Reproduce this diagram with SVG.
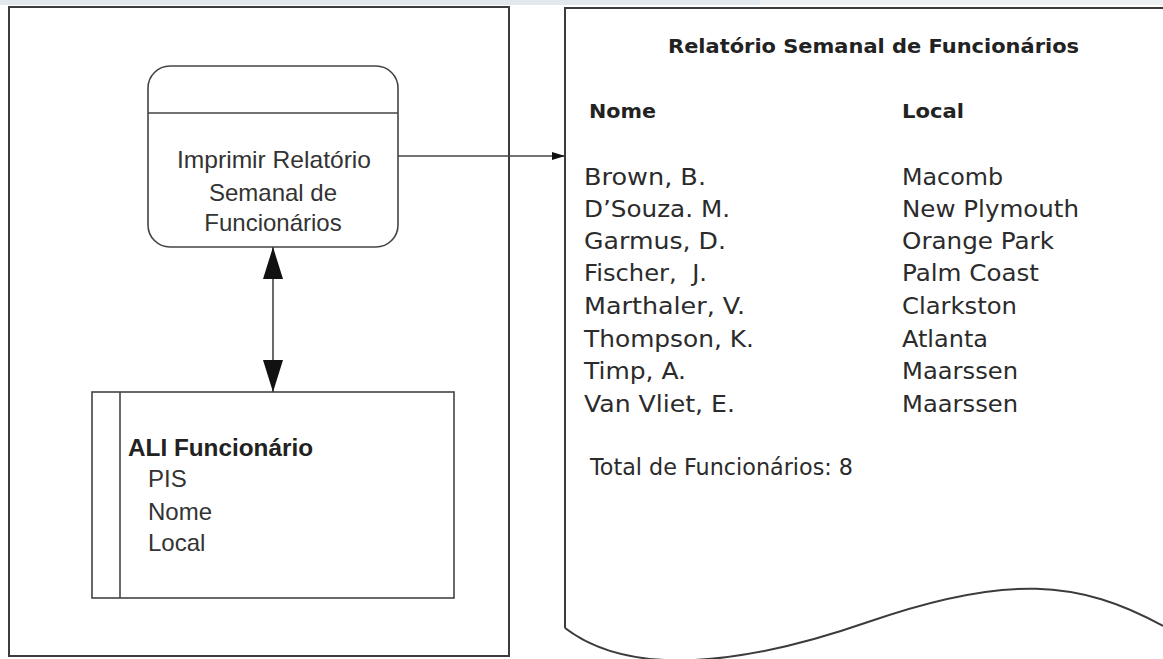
<svg xmlns="http://www.w3.org/2000/svg" width="1163" height="659" viewBox="0 0 1163 659">
<style>
.ln{fill:none;stroke:#3c3c3c;stroke-width:2}
.lt{fill:none;stroke:#444;stroke-width:1.6}
.t{font-family:"Liberation Sans",Arial,sans-serif;fill:#333;font-size:24px}
.tb{font-family:"Liberation Sans",Arial,sans-serif;fill:#222;font-size:23px;font-weight:bold}
.r{font-family:"DejaVu Sans",Verdana,sans-serif;fill:#2b2b2b;font-size:23px}
.rb{font-family:"DejaVu Sans",Verdana,sans-serif;fill:#222;font-size:20px;font-weight:bold}
</style>
<defs>
<marker id="big" viewBox="0 0 32 20" refX="32" refY="10" markerWidth="32" markerHeight="20" markerUnits="userSpaceOnUse" orient="auto-start-reverse">
<path d="M0,0 L32,10 L0,20 z" fill="#111"/>
</marker>
<marker id="small" viewBox="0 0 13 8" refX="13" refY="4" markerWidth="13" markerHeight="8" markerUnits="userSpaceOnUse" orient="auto">
<path d="M0,0 L13,4 L0,8 z" fill="#111"/>
</marker>
</defs>
<rect x="0" y="0" width="1163" height="659" fill="#fff"/>
<rect x="0" y="0" width="760" height="5" fill="#e2e9ee"/>
<rect x="760" y="0" width="403" height="5" fill="#eef1f3"/>

<g id="container">
<rect class="ln" x="9" y="7" width="500" height="649" stroke-width="2.4"/>
</g>

<g id="process">
<rect class="lt" x="148" y="66" width="250" height="181" rx="22" ry="22"/>
<line class="lt" x1="148" y1="113" x2="398" y2="113"/>
<text class="t" text-anchor="middle" x="274" y="168" textLength="194" lengthAdjust="spacingAndGlyphs">Imprimir Relatório</text>
<text class="t" text-anchor="middle" x="273" y="201">Semanal de</text>
<text class="t" text-anchor="middle" x="273" y="231">Funcionários</text>
</g>

<g id="ali">
<rect class="lt" x="92" y="392" width="362" height="206"/>
<line class="lt" x1="120" y1="392" x2="120" y2="598"/>
<text class="tb" x="128" y="456" textLength="185" lengthAdjust="spacingAndGlyphs">ALI Funcionário</text>
<text class="t" x="148" y="487">PIS</text>
<text class="t" x="148" y="520">Nome</text>
<text class="t" x="148" y="551">Local</text>
</g>

<g id="report">
<path class="ln" d="M565,628 L565,8 L1163,8"/>
<path class="ln" d="M565,628 C625,674 730,670 868,622 S1080,580 1163,626"/>
<text class="rb" x="668" y="53" textLength="411" lengthAdjust="spacingAndGlyphs">Relatório Semanal de Funcionários</text>
<text class="rb" x="589" y="118" textLength="67" lengthAdjust="spacingAndGlyphs">Nome</text>
<text class="rb" x="902" y="118" textLength="62" lengthAdjust="spacingAndGlyphs">Local</text>
<text class="r" x="584" y="185" textLength="122" lengthAdjust="spacingAndGlyphs">Brown, B.</text>
<text class="r" x="584" y="217" textLength="146" lengthAdjust="spacingAndGlyphs">D’Souza. M.</text>
<text class="r" x="584" y="249" textLength="142" lengthAdjust="spacingAndGlyphs">Garmus, D.</text>
<text class="r" x="584" y="281" textLength="123" lengthAdjust="spacingAndGlyphs" xml:space="preserve">Fischer,  J.</text>
<text class="r" x="584" y="314" textLength="161" lengthAdjust="spacingAndGlyphs">Marthaler, V.</text>
<text class="r" x="584" y="347" textLength="170" lengthAdjust="spacingAndGlyphs">Thompson, K.</text>
<text class="r" x="584" y="379" textLength="102" lengthAdjust="spacingAndGlyphs">Timp, A.</text>
<text class="r" x="584" y="412" textLength="151" lengthAdjust="spacingAndGlyphs">Van Vliet, E.</text>
<text class="r" x="902" y="185" textLength="101" lengthAdjust="spacingAndGlyphs">Macomb</text>
<text class="r" x="902" y="217" textLength="177" lengthAdjust="spacingAndGlyphs">New Plymouth</text>
<text class="r" x="902" y="249" textLength="152" lengthAdjust="spacingAndGlyphs">Orange Park</text>
<text class="r" x="902" y="281" textLength="137" lengthAdjust="spacingAndGlyphs">Palm Coast</text>
<text class="r" x="902" y="314" textLength="115" lengthAdjust="spacingAndGlyphs">Clarkston</text>
<text class="r" x="902" y="347" textLength="86" lengthAdjust="spacingAndGlyphs">Atlanta</text>
<text class="r" x="902" y="379" textLength="116" lengthAdjust="spacingAndGlyphs">Maarssen</text>
<text class="r" x="902" y="412" textLength="116" lengthAdjust="spacingAndGlyphs">Maarssen</text>
<text class="r" x="590" y="475" font-size="21" textLength="263" lengthAdjust="spacingAndGlyphs">Total de Funcionários: 8</text>
</g>

<g id="connectors">
<line class="lt" x1="273" y1="247" x2="273" y2="392" marker-start="url(#big)" marker-end="url(#big)"/>
<line class="lt" x1="398" y1="156" x2="565" y2="156" marker-end="url(#small)"/>
</g>
</svg>
